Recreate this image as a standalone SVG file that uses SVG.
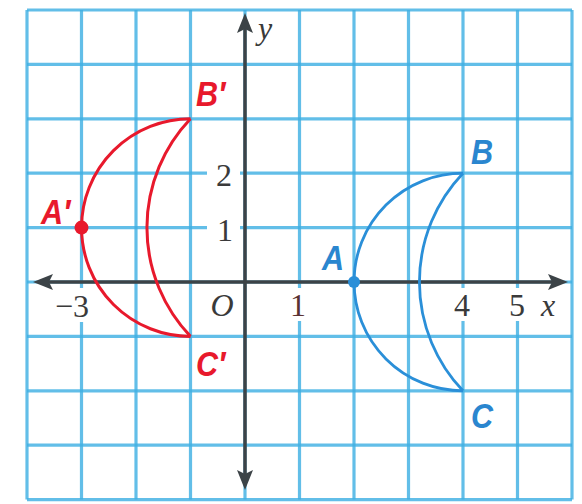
<svg xmlns="http://www.w3.org/2000/svg" width="582" height="504" viewBox="0 0 582 504">
<style>
.grid line{stroke:#3fb0e3;stroke-width:3.2;stroke-opacity:0.82}
.axis{stroke:#3c4347;stroke-width:3.5;fill:none}
.num{font-family:"Liberation Serif",serif;font-size:32px;fill:#3a3a3a;text-anchor:middle}
.it{font-style:italic}
.lbl{font-family:"Liberation Sans",Arial,sans-serif;font-size:36px;font-weight:bold;font-style:italic}
.red{fill:#e8192c}
.blue{fill:#2a86cf}
.rc{stroke:#e8192c;stroke-width:3;fill:none}
.bc{stroke:#2a8fd8;stroke-width:2.8;fill:none}
</style>
<defs>
<marker id="arr" markerUnits="userSpaceOnUse" markerWidth="24" markerHeight="18" refX="14" refY="8" orient="auto-start-reverse">
<path d="M0,0 L20,8 L0,16 L4,8 Z" fill="#3c4347"/>
</marker>
</defs>
<rect width="582" height="504" fill="#fff"/>
<g id="grid" class="grid">
<line x1="27" y1="10" x2="27" y2="499.6"/>
<line x1="81.5" y1="10" x2="81.5" y2="499.6"/>
<line x1="136" y1="10" x2="136" y2="499.6"/>
<line x1="190.5" y1="10" x2="190.5" y2="499.6"/>
<line x1="245" y1="10" x2="245" y2="499.6"/>
<line x1="299.5" y1="10" x2="299.5" y2="499.6"/>
<line x1="354" y1="10" x2="354" y2="499.6"/>
<line x1="408.5" y1="10" x2="408.5" y2="499.6"/>
<line x1="463" y1="10" x2="463" y2="499.6"/>
<line x1="517.5" y1="10" x2="517.5" y2="499.6"/>
<line x1="572" y1="10" x2="572" y2="499.6"/>
<line x1="27" y1="10" x2="572" y2="10"/>
<line x1="27" y1="64.4" x2="572" y2="64.4"/>
<line x1="27" y1="118.8" x2="572" y2="118.8"/>
<line x1="27" y1="173.2" x2="572" y2="173.2"/>
<line x1="27" y1="227.6" x2="572" y2="227.6"/>
<line x1="27" y1="282" x2="572" y2="282"/>
<line x1="27" y1="336.4" x2="572" y2="336.4"/>
<line x1="27" y1="390.8" x2="572" y2="390.8"/>
<line x1="27" y1="445.2" x2="572" y2="445.2"/>
<line x1="27" y1="499.6" x2="572" y2="499.6"/>
</g>
<g id="label-backs" fill="#fff">
<rect x="207" y="159" width="33" height="29"/>
<rect x="207" y="214" width="33" height="28"/>
<rect x="42" y="288" width="50" height="34"/>
<rect x="287" y="288" width="24" height="33"/>
<rect x="450" y="288" width="24" height="33"/>
<rect x="505" y="288" width="24" height="33"/>
</g>
<g id="axes">
<line class="axis" x1="39" y1="282" x2="562" y2="282" marker-start="url(#arr)" marker-end="url(#arr)"/>
<line class="axis" x1="245" y1="19" x2="245" y2="484" marker-start="url(#arr)" marker-end="url(#arr)"/>
</g>
<g id="tick-labels">
<text class="num" x="224" y="186">2</text>
<text class="num" x="225" y="241" fill="#3d3d5a">1</text>
<text class="num it" x="222" y="316">O</text>
<text class="num" x="298" y="316" style="fill:#5a3232">1</text>
<text class="num" x="89" y="317" style="text-anchor:end">−3</text>
<text class="num" x="462" y="316">4</text>
<text class="num" x="517" y="316">5</text>
<text class="num it" x="548" y="316">x</text>
<text class="num it" x="265" y="39">y</text>
</g>
<g id="figure-ABC">
<path class="bc" d="M463,173.2 A109,108.8 0 0 0 463,390.8"/>
<path class="bc" d="M463,173.2 A158,157.8 0 0 0 463,390.8"/>
<circle cx="354" cy="282" r="6" fill="#2a8fd8"/>
<text class="lbl blue" transform="translate(322,270) scale(0.85,1)">A</text>
<text class="lbl blue" transform="translate(471,164) scale(0.85,1)">B</text>
<text class="lbl blue" transform="translate(471,428) scale(0.85,1)">C</text>
</g>
<g id="figure-A1B1C1">
<path class="rc" d="M190.5,118.8 A109,108.8 0 0 0 190.5,336.4"/>
<path class="rc" d="M190.5,118.8 A158,157.8 0 0 0 190.5,336.4"/>
<circle cx="81.5" cy="227.6" r="7" fill="#e8192c"/>
<text class="lbl red" transform="translate(41,224) scale(0.85,1)">A′</text>
<text class="lbl red" transform="translate(196,106) scale(0.85,1)">B′</text>
<text class="lbl red" transform="translate(196,376) scale(0.85,1)">C′</text>
</g>
</svg>
